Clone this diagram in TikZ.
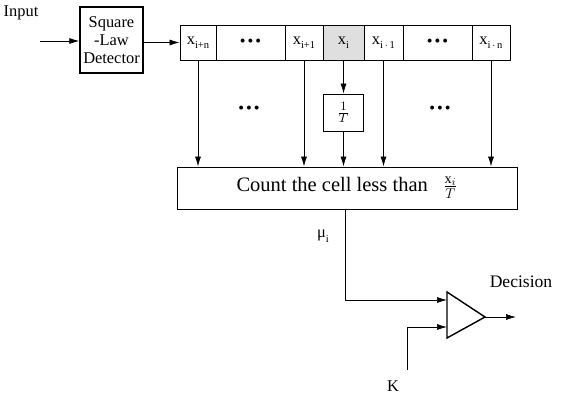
\documentclass[tikz,border=0pt]{standalone}
\usepackage{fontspec}
\setmainfont{Liberation Serif}
\usetikzlibrary{arrows.meta}
\newcommand{\lowsub}[2]{#1\raisebox{-0.6ex}{\small #2}}
\newcommand{\threedots}{\textbullet\hspace{0.12em}\textbullet\hspace{0.12em}\textbullet}
\tikzset{
  >={Latex[length=3mm,width=1.8mm]},
  txt/.style={font=\fontsize{14}{15.5}\selectfont},
  box/.style={draw, thick, inner sep=0pt, txt},
  cell/.style={box, minimum height=35*0.03cm},
  link/.style={semithick}
}
\begin{document}
\begin{tikzpicture}[x=0.03cm,y=-0.03cm]
\useasboundingbox (0,0) rectangle (564,397);
\node[txt] (input) at (21,13) {Input};
\coordinate (src) at (40,41);
\node[box, very thick, minimum width=63*0.03cm, minimum height=66*0.03cm, align=center] (det) at (111.5,40) {Square\\-Law\\Detector};
\node[cell, minimum width=36*0.03cm] (xin) at (198,42.5) {\lowsub{x}{i+n}};
\node[cell, minimum width=69*0.03cm] (dl) at (250.5,42.5) {\threedots};
\node[cell, minimum width=38*0.03cm] (xip) at (304,42.5) {\lowsub{x}{i+1}};
\node[cell, minimum width=41*0.03cm, fill=gray!25] (xi) at (343.5,42.5) {\lowsub{x}{i}};
\node[cell, minimum width=39*0.03cm] (xim) at (383.5,42.5) {\lowsub{x}{i$\,\cdot\,$1}};
\node[cell, minimum width=69*0.03cm] (dr) at (437.5,42.5) {\threedots};
\node[cell, minimum width=38*0.03cm] (xinn) at (491,42.5) {\lowsub{x}{i$\,\cdot\,$n}};
\node[txt] (gapl) at (249,110) {\threedots};
\node[txt] (gapr) at (440,110) {\threedots};
\node[box, minimum width=40*0.03cm, minimum height=37*0.03cm, font=\fontsize{15}{17}\selectfont] (invt) at (343.5,112.5) {$\frac{1}{T}$};
\node[box, minimum width=340*0.03cm, minimum height=42*0.03cm, font=\fontsize{17.5}{19}\selectfont] (count) at (347,188) {Count the cell less than \enspace$\frac{\mathrm{x}_i}{T}$};
\node[txt] (mu) at (323,236) {\lowsub{μ}{i}};
\coordinate (bend) at (345,300);
\coordinate (cmpa) at (447,300);
\coordinate (cmpb) at (447,327);
\coordinate (cmpo) at (485,317);
\draw[very thick] (447,292) -- (cmpo) -- (447,338) -- cycle;
\coordinate (dec) at (516,317);
\node[txt, font=\fontsize{15}{17}\selectfont] (decision) at (521,282) {Decision};
\coordinate (kin) at (407,370);
\node[txt] (k) at (393,386) {K};
\draw[link,->] (src) -- (det.west |- src);
\draw[link,->] (det.east |- xin) -- (xin.west);
\draw[link,->] (xin.south) -- (xin.south |- count.north);
\draw[link,->] (xip.south) -- (xip.south |- count.north);
\draw[link,->] (xi.south) -- (invt.north);
\draw[link,->] (invt.south) -- (invt.south |- count.north);
\draw[link,->] (xim.south) -- (xim.south |- count.north);
\draw[link,->] (xinn.south) -- (xinn.south |- count.north);
\draw[link,->] (count.south -| bend) -- (bend) -- (cmpa);
\draw[link,->] (kin) -- (kin |- cmpb) -- (cmpb);
\draw[link,->] (cmpo) -- (dec);
\end{tikzpicture}
\end{document}
